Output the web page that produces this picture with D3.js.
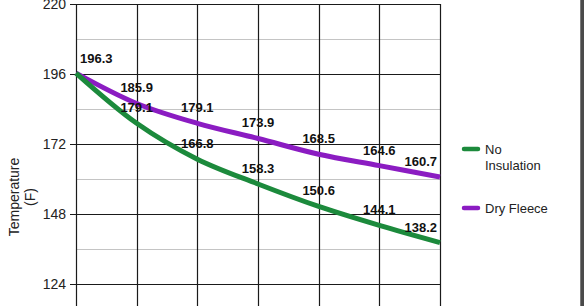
<!DOCTYPE html>
<html>
<head>
<meta charset="utf-8">
<script src="https://cdn.jsdelivr.net/npm/d3@7"></script>
<style>
  body { margin: 0; background: #fff; }
  svg { display: block; font-family: Arial, "Liberation Sans", sans-serif; }
  .tick-label { font-size: 14px; fill: #222; }
  .pt-label { font-size: 13px; font-weight: bold; fill: #111; }
  .legend-text { font-size: 13px; fill: #222; }
</style>
</head>
<body>
<div id="chart"></div>
<script>
// Chart data
const timePoints = [0, 1, 2, 3, 4, 5, 6];
const noInsulation = [196.3, 179.1, 166.8, 158.3, 150.6, 144.1, 138.2];
const dryFleece = [196.3, 185.9, 179.1, 173.9, 168.5, 164.6, 160.7];
const majorTicks = [124, 148, 172, 196, 220];
const minorTicks = [136, 160, 184, 208];

const W = 584, H = 306;
const plotLeft = 76, plotRight = 440, plotTop = 4;

const svg = d3.select('#chart')
    .append('svg')
    .attr('width', W)
    .attr('height', H);

// Scales
const xScale = d3.scaleLinear()
    .domain([0, 6])
    .range([plotLeft, plotRight]);

const yScale = d3.scaleLinear()
    .domain([100, 220])
    .range([354, plotTop]);

// Minor gridlines
svg.append('g')
    .selectAll('line')
    .data(minorTicks)
    .enter()
    .append('line')
    .attr('x1', plotLeft).attr('x2', plotRight)
    .attr('y1', d => Math.round(yScale(d)) + 0.5)
    .attr('y2', d => Math.round(yScale(d)) + 0.5)
    .attr('stroke', '#c4c4c4')
    .attr('stroke-width', 1);

// Vertical gridlines
svg.append('g')
    .selectAll('line')
    .data(timePoints)
    .enter()
    .append('line')
    .attr('x1', d => Math.round(xScale(d)) + 0.5)
    .attr('x2', d => Math.round(xScale(d)) + 0.5)
    .attr('y1', yScale(220)).attr('y2', H)
    .attr('stroke', '#1a1a1a')
    .attr('stroke-width', 1.2);

// Major gridlines + y axis
const yAxis = svg.append('g')
    .attr('transform', `translate(${plotLeft},0)`)
    .call(d3.axisLeft(yScale)
        .tickValues(majorTicks)
        .tickSize(-(plotRight - plotLeft))
        .tickSizeOuter(0)
        .tickPadding(10)
        .tickFormat(d3.format('d')));
yAxis.select('.domain').remove();
yAxis.selectAll('line')
    .attr('x1', -6)
    .attr('stroke', '#1a1a1a')
    .attr('stroke-width', 1.2);
yAxis.selectAll('text')
    .attr('class', 'tick-label')
    .attr('x', -10)
    .style('font-family', 'Arial, "Liberation Sans", sans-serif')
    .style('font-size', '14px')
    .attr('fill', '#222');

// Y axis title
const yTitle = svg.append('text')
    .attr('transform', `translate(14,${yScale(160) + 18}) rotate(-90)`)
    .attr('text-anchor', 'middle')
    .style('font-size', '14px')
    .attr('fill', '#222');
yTitle.append('tspan').attr('x', 0).attr('dy', 5).text('Temperature');
yTitle.append('tspan').attr('x', 0).attr('dy', 16).text('(F)');

// Lines
const line = d3.line()
    .x((d, i) => xScale(timePoints[i]))
    .y(d => yScale(d))
    .curve(d3.curveCatmullRom.alpha(0.5));

const series = [
    { name: 'Dry Fleece', values: dryFleece, color: '#8b1cc2' },
    { name: 'No Insulation', values: noInsulation, color: '#1c8a3c' }
];

svg.selectAll('.series-line')
    .data(series)
    .enter()
    .append('path')
    .attr('class', 'series-line')
    .attr('d', d => line(d.values))
    .attr('fill', 'none')
    .attr('stroke', d => d.color)
    .attr('stroke-width', 5)
    .attr('stroke-linejoin', 'round');

// Point labels
function labelX(i) {
    if (i === 0) return xScale(timePoints[i]) + 4;
    if (i === timePoints.length - 1) return xScale(timePoints[i]) - 3;
    return xScale(timePoints[i]);
}
function labelAnchor(i) {
    if (i === 0) return 'start';
    if (i === timePoints.length - 1) return 'end';
    return 'middle';
}

// start point shared by both series: label once
const labels = [];
noInsulation.forEach((v, i) => labels.push({ i, v }));
dryFleece.forEach((v, i) => { if (i > 0) labels.push({ i, v }); });

svg.selectAll('.pt-label')
    .data(labels)
    .enter()
    .append('text')
    .attr('class', 'pt-label')
    .attr('x', d => labelX(d.i))
    .attr('y', d => yScale(d.v) - (d.i === 0 ? 10 : 11))
    .attr('text-anchor', d => labelAnchor(d.i))
    .text(d => d3.format('.1f')(d.v));

// Legend
const legend = svg.append('g');
const legendItems = [
    { lines: ['No', 'Insulation'], color: '#1c8a3c', y: 149 },
    { lines: ['Dry Fleece'], color: '#8b1cc2', y: 208 }
];
legendItems.forEach(item => {
    legend.append('line')
        .attr('x1', 464).attr('x2', 478)
        .attr('y1', item.y).attr('y2', item.y)
        .attr('stroke', item.color)
        .attr('stroke-width', 4.5)
        .attr('stroke-linecap', 'round');
    const t = legend.append('text')
        .attr('class', 'legend-text')
        .attr('x', 485)
        .attr('y', item.y + 5);
    item.lines.forEach((s, k) => {
        t.append('tspan').attr('x', 485).attr('dy', k === 0 ? 0 : 16).text(s);
    });
});

// Frame edge on the right
svg.append('rect')
    .attr('x', 580).attr('y', 0)
    .attr('width', 4).attr('height', H)
    .attr('fill', '#4a4a4a');
svg.append('rect')
    .attr('x', 580).attr('y', 0)
    .attr('width', 1).attr('height', H)
    .attr('fill', '#7a7a7a');
</script>
</body>
</html>
